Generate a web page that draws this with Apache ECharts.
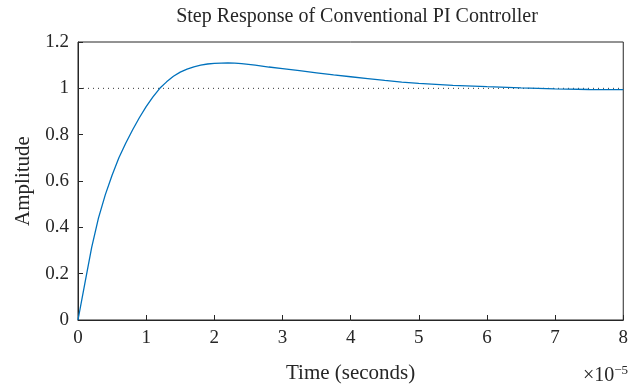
<!DOCTYPE html>
<html>
<head>
<meta charset="utf-8">
<script src="https://cdn.jsdelivr.net/npm/echarts@6/dist/echarts.min.js"></script>
<style>html,body{margin:0;padding:0;background:#fff;}#c{width:631px;height:389px;}</style>
</head>
<body>
<div id="c"></div>
<script>
// time in units of 1e-5 s
var timeVals = [0, 0.1, 0.2, 0.3, 0.4, 0.5, 0.6, 0.7, 0.8, 0.9, 1.0, 1.1, 1.2, 1.3, 1.4, 1.5, 1.6, 1.7, 1.8, 1.9, 2.0, 2.1, 2.2, 2.3, 2.4, 2.6, 2.8, 3.0, 3.25, 3.5, 3.75, 4.0, 4.25, 4.5, 4.75, 5.0, 5.5, 6.0, 6.5, 7.0, 7.5, 8.0];
var amplitude = [0, 0.157, 0.312, 0.44, 0.54, 0.625, 0.70, 0.763, 0.82, 0.873, 0.921, 0.963, 1.0, 1.028, 1.052, 1.07, 1.083, 1.093, 1.1, 1.105, 1.108, 1.109, 1.11, 1.109, 1.107, 1.1, 1.092, 1.085, 1.076, 1.067, 1.058, 1.05, 1.042, 1.034, 1.027, 1.021, 1.013, 1.007, 1.002, 0.998, 0.995, 0.994];
var steadyTime = [0, 8];
var steadyVal = [1, 1];
var xTicks = [0, 1, 2, 3, 4, 5, 6, 7, 8];
var yTicks = [0, 0.2, 0.4, 0.6, 0.8, 1, 1.2];

var font = 'Liberation Serif';
var txt = '#262626';
var chart = echarts.init(document.getElementById('c'));
chart.setOption({
  animation: false,
  backgroundColor: '#fff',
  title: {
    text: 'Step Response of Conventional PI Controller',
    left: 352, top: 2, textAlign: 'center',
    textStyle: {fontFamily: font, fontSize: 20, fontWeight: 'normal', color: txt}
  },
  grid: {left: 78, right: 5, top: 42, bottom: 64, show: true, borderColor: txt, borderWidth: 1},
  xAxis: {
    type: 'value', min: xTicks[0], max: xTicks[xTicks.length - 1], interval: 1,
    name: 'Time (seconds)', nameLocation: 'middle', nameGap: 43,
    nameTextStyle: {fontFamily: font, fontSize: 21, color: txt},
    axisLine: {show: true, lineStyle: {color: txt, width: 1}},
    axisTick: {show: true, inside: true, length: 5, lineStyle: {color: txt}},
    axisLabel: {fontFamily: font, fontSize: 19, color: txt, margin: 9},
    splitLine: {show: false}
  },
  yAxis: {
    type: 'value', min: yTicks[0], max: yTicks[yTicks.length - 1], interval: 0.2,
    name: 'Amplitude', nameLocation: 'middle', nameGap: 44,
    nameTextStyle: {fontFamily: font, fontSize: 21, color: txt},
    axisLine: {show: true, lineStyle: {color: txt, width: 1}},
    axisTick: {show: true, inside: true, length: 5, lineStyle: {color: txt}},
    axisLabel: {fontFamily: font, fontSize: 19, color: txt, margin: 9,
      formatter: function (v) { return String(Math.round(v * 10) / 10); }},
    splitLine: {show: false}
  },
  series: [
    {
      type: 'line', name: 'steady', showSymbol: false, symbol: 'none', silent: true,
      data: steadyTime.map(function (t, i) { return [t, steadyVal[i]]; }),
      lineStyle: {color: '#333', width: 1, type: [1, 4]}
    },
    {
      type: 'line', name: 'step', showSymbol: false, symbol: 'none', smooth: false,
      data: timeVals.map(function (t, i) { return [t, amplitude[i]]; }),
      lineStyle: {color: '#0072BD', width: 1.3}
    }
  ],
  graphic: [{
    type: 'text', right: 3, top: 364,
    style: {
      text: '×10{s|−5}',
      font: '20px "Liberation Serif"', fill: txt,
      rich: {s: {fontSize: 13, fontFamily: font, verticalAlign: 'top', padding: [0, 0, 11, 0], fill: txt}}
    }
  }]
});
</script>
</body>
</html>
